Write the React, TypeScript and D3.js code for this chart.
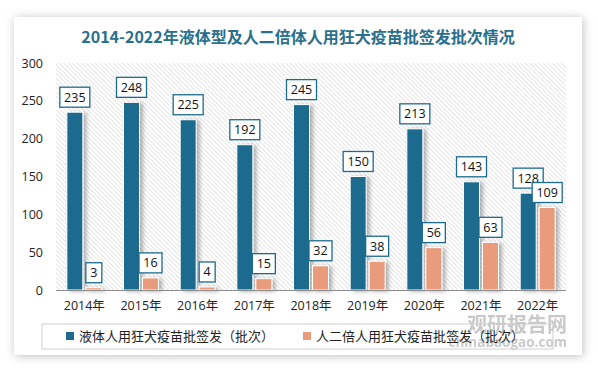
import React from "react";
import * as d3 from "d3";

const years = ["2014年", "2015年", "2016年", "2017年", "2018年", "2019年", "2020年", "2021年", "2022年"];
const liquid = [235, 248, 225, 192, 245, 150, 213, 143, 128];
const diploid = [3, 16, 4, 15, 32, 38, 56, 63, 109];
const yTicks = [0, 50, 100, 150, 200, 250, 300];
const seriesNames = ["液体人用狂犬疫苗批签发（批次）", "人二倍人用狂犬疫苗批签发（批次）"];
const title = "2014-2022年液体型及人二倍体人用狂犬疫苗批签发批次情况";

const W = 598, H = 368;
const BLUE = "#1c6b8e";
const ORANGE = "#e89c7c";

export default function App() {
  const x = d3.scaleBand<string>().domain(years).range([56, 566]).padding(0);
  const sub = d3.scaleBand<string>().domain(["a", "b"]).range([0, x.bandwidth()]).paddingInner(0.158).paddingOuter(0.571);
  const y = d3.scaleLinear().domain([0, 300]).range([290, 63]);
  const font = "'Open Sans', 'Noto Sans CJK SC', sans-serif";
  const cjk = "'Noto Sans CJK SC', sans-serif";

  const labelBox = (cx: number, v: number, key: string) => {
    const txt = String(v);
    const w = txt.length === 1 ? 16 : txt.length === 2 ? 23 : 30;
    const bottom = y(v) - 5;
    return (
      <g key={key}>
        <rect x={cx - w / 2} y={bottom - 20} width={w} height={20} fill="#fff" stroke={BLUE} strokeWidth={1.3} />
        <text x={cx} y={bottom - 5.5} textAnchor="middle" fontSize={12.5} fontFamily={font} fill="#111">{txt}</text>
      </g>
    );
  };

  return (
    <svg width={W} height={H} style={{ position: "absolute", left: 0, top: 0, display: "block" }}>
      <defs>
        <filter id="cardShadow" x="-10%" y="-10%" width="120%" height="120%">
          <feDropShadow dx="1" dy="1" stdDeviation="5" floodColor="#000" floodOpacity="0.25" />
        </filter>
        <filter id="barShadow" x="-30%" y="-10%" width="180%" height="130%">
          <feDropShadow dx="3" dy="1" stdDeviation="2" floodColor="#000" floodOpacity="0.3" />
        </filter>
        <pattern id="hatch" width="3.2" height="3.2" patternUnits="userSpaceOnUse" patternTransform="rotate(-45)">
          <rect width="3.2" height="3.2" fill="#fff" />
          <line x1="0" y1="0" x2="0" y2="3.2" stroke="#d2d2d2" strokeWidth="1.1" />
        </pattern>
      </defs>
      <rect x={0} y={0} width={W} height={H} fill="#fff" />
      <rect x={14} y={17} width={568} height={338} fill="#fff" filter="url(#cardShadow)" />
      <text x={298} y={43} textAnchor="middle" fontSize={16} fontWeight="bold" fontFamily="'Noto Sans CJK SC', serif" fill="#2a6f8c">{title}</text>

      <rect x={56} y={63} width={510} height={227} fill="url(#hatch)" />

      {yTicks.map((t) => (
        <text key={t} x={43} y={y(t) + 4.5} textAnchor="end" fontSize={12.5} fontFamily={font} fill="#222">{t}</text>
      ))}

      {years.map((yr, i) => {
        const x0 = x(yr)!;
        return (
          <g key={yr} filter="url(#barShadow)">
            <rect x={x0 + sub("a")!} y={y(liquid[i])} width={sub.bandwidth()} height={y(0) - y(liquid[i])} fill={BLUE} stroke="#fff" strokeWidth={1} />
            <rect x={x0 + sub("b")!} y={y(diploid[i])} width={sub.bandwidth()} height={y(0) - y(diploid[i])} fill={ORANGE} stroke="#fff" strokeWidth={1} />
          </g>
        );
      })}
      <line x1={56} x2={566} y1={290.5} y2={290.5} stroke="#8c8c8c" strokeWidth={1} />

      {years.map((yr, i) => {
        const x0 = x(yr)!;
        return (
          <g key={"l" + yr}>
            {labelBox(x0 + sub("a")! + sub.bandwidth() / 2, liquid[i], "a")}
            {labelBox(x0 + sub("b")! + sub.bandwidth() / 2, diploid[i], "b")}
          </g>
        );
      })}

      {years.map((yr) => (
        <text key={"x" + yr} x={x(yr)! + x.bandwidth() / 2} y={310} textAnchor="middle" fontSize={12.5} fontFamily={font} fill="#222">{yr}</text>
      ))}

      <text x={567} y={332} textAnchor="end" fontSize={20} fontWeight="bold" fontFamily={cjk} fill="#8a8a8a" opacity={0.45}>观研报告网</text>
      <text x={567} y={347} textAnchor="end" fontSize={13.5} fontWeight="bold" fontFamily={font} fill="#8a8a8a" opacity={0.45}>chinabaogao.com</text>

      <rect x={42} y={324} width={511} height={25} fill="none" stroke="#d0d0d0" strokeWidth={1} />
      <rect x={66} y={332} width={8} height={8} fill={BLUE} />
      <text x={79} y={340.5} fontSize={13} fontFamily={cjk} fill="#222">{seriesNames[0]}</text>
      <rect x={303} y={332} width={8} height={8} fill={ORANGE} />
      <text x={316} y={340.5} fontSize={13} fontFamily={cjk} fill="#222">{seriesNames[1]}</text>
    </svg>
  );
}
